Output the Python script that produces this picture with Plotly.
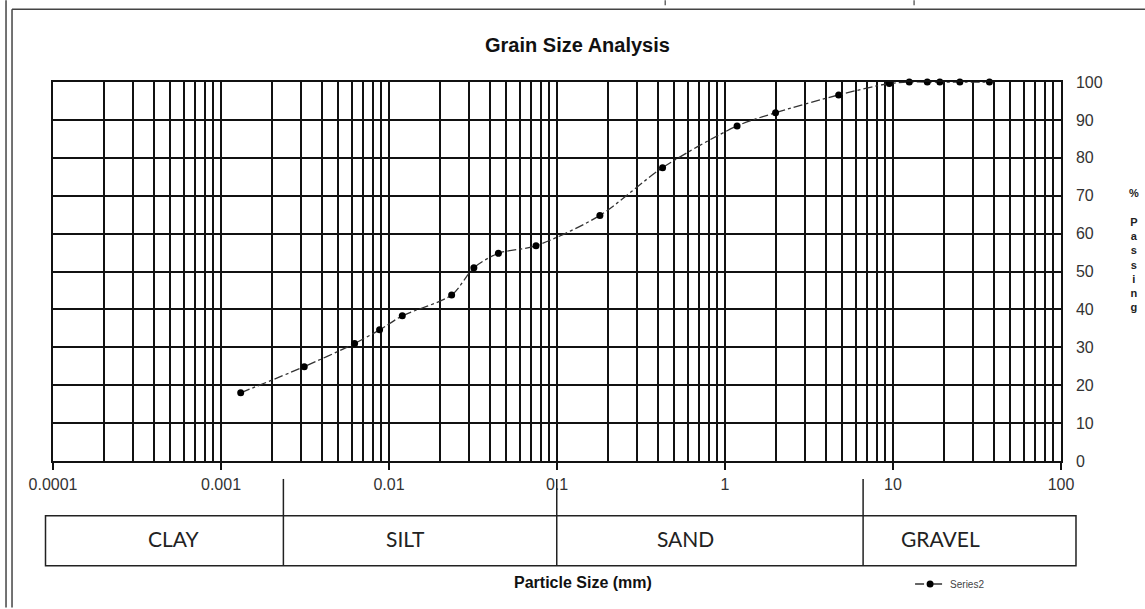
import plotly.graph_objects as go

# ---- data ----
size_mm = [0.00131, 0.00313, 0.00624, 0.00879, 0.0120, 0.0236, 0.0320, 0.0448, 0.075,
           0.18, 0.425, 1.18, 2.0, 4.75, 9.5, 12.5, 16.0, 19.0, 25.0, 37.5]
passing = [18.0, 24.9, 31.0, 34.6, 38.3, 43.8, 51.0, 54.8, 56.8,
           64.8, 77.4, 88.4, 91.9, 96.6, 99.6, 100, 100, 100, 100, 100]
series_name = "Series2"

x_major = [0.0001, 0.001, 0.01, 0.1, 1, 10, 100]
x_labels = ["0.0001", "0.001", "0.01", "0.1", "1", "10", "100"]
x_minor = [k * d for d in [0.0001, 0.001, 0.01, 0.1, 1, 10] for k in range(2, 10)]
y_ticks = list(range(0, 101, 10))

classes = ["CLAY", "SILT", "SAND", "GRAVEL"]

# ---- layout geometry (pixels) ----
W, H = 1145, 609
L, R, T, B = 52.5, 1061, 82, 462
PW, PH = R - L, B - T


def px(xp):
    return (xp - L) / PW


def py(yp):
    return (B - yp) / PH


fig = go.Figure()
fig.add_trace(go.Scatter(
    x=size_mm, y=passing, name=series_name, mode="lines+markers",
    line=dict(color="#333333", width=1.3, dash="dashdot", shape="spline", smoothing=0.8),
    marker=dict(color="#000000", size=7),
    cliponaxis=False,
))

grid_col = "#111111"
tick_font = dict(family="Liberation Sans, Arial", size=16, color="#333333")
fig.update_xaxes(
    type="log", range=[-4, 2],
    tickmode="array", tickvals=x_major, ticktext=x_labels,
    ticks="outside", ticklen=7, tickwidth=1.5, tickcolor=grid_col,
    ticklabelstandoff=1,
    showgrid=True, gridcolor=grid_col, gridwidth=1.5,
    minor=dict(tickmode="array", tickvals=x_minor, showgrid=True,
               gridcolor=grid_col, gridwidth=1.5, ticks=""),
    showline=True, linecolor=grid_col, linewidth=1.5, mirror=True,
    zeroline=False,
    tickfont=tick_font,
)
fig.update_yaxes(
    range=[0, 100], tickmode="array", tickvals=y_ticks,
    side="right", ticks="", ticklabelstandoff=10,
    showgrid=True, gridcolor=grid_col, gridwidth=1.5,
    showline=True, linecolor=grid_col, linewidth=1.5, mirror=True,
    zeroline=False,
    tickfont=tick_font,
)

shapes = []
line_col = "#222222"
# classification box
box_top, box_bot = 517, 567
shapes.append(dict(type="rect", xref="paper", yref="paper",
                   x0=px(45), x1=px(1076), y0=py(box_bot), y1=py(box_top),
                   line=dict(color=line_col, width=1.5)))
dividers = [283, 556.5, 863]
for d in dividers:
    shapes.append(dict(type="line", xref="paper", yref="paper",
                       x0=px(d), x1=px(d), y0=py(box_bot), y1=py(480),
                       line=dict(color=line_col, width=1.5)))
# outer frame
frame_col = "#444444"
shapes.append(dict(type="line", xref="paper", yref="paper",
                   x0=px(5.5), x1=px(5.5), y0=py(0), y1=py(H),
                   line=dict(color=frame_col, width=1.5)))
shapes.append(dict(type="line", xref="paper", yref="paper",
                   x0=px(11.5), x1=px(11.5), y0=py(9), y1=py(H),
                   line=dict(color=frame_col, width=1.5)))
shapes.append(dict(type="line", xref="paper", yref="paper",
                   x0=px(11.5), x1=px(W), y0=py(9), y1=py(9),
                   line=dict(color=frame_col, width=1.5)))
for tx in [665, 914]:
    shapes.append(dict(type="line", xref="paper", yref="paper",
                       x0=px(tx), x1=px(tx), y0=py(0), y1=py(5),
                       line=dict(color=frame_col, width=1.2)))

annotations = []
class_centers = [174, 405, 685, 940]
for name, cx in zip(classes, class_centers):
    annotations.append(dict(text=name, x=px(cx), y=py(540),
                            xref="paper", yref="paper", showarrow=False,
                            xanchor="center", yanchor="middle",
                            font=dict(family="Lato", size=21, color="#222222")))
annotations.append(dict(text="<b>Grain Size Analysis</b>", x=px(577), y=py(45),
                        xref="paper", yref="paper", showarrow=False,
                        xanchor="center", yanchor="middle",
                        font=dict(family="Liberation Sans, Arial", size=20, color="#111111")))
annotations.append(dict(text="<b>Particle Size (mm)</b>", x=px(583), y=py(584),
                        xref="paper", yref="paper", showarrow=False,
                        xanchor="center", yanchor="middle",
                        font=dict(family="Liberation Sans, Arial", size=16, color="#111111")))
annotations.append(dict(text="<b>%<br> <br>P<br>a<br>s<br>s<br>i<br>n<br>g</b>",
                        x=px(1134), y=py(250), xref="paper", yref="paper",
                        showarrow=False, xanchor="center", yanchor="middle",
                        align="center",
                        font=dict(family="Liberation Sans, Arial", size=11, color="#222222")))

fig.update_layout(
    width=W, height=H,
    margin=dict(l=L, r=W - R, t=T, b=H - B),
    paper_bgcolor="white", plot_bgcolor="white",
    shapes=shapes, annotations=annotations,
    showlegend=True,
    legend=dict(x=px(910), y=py(584), xanchor="left", yanchor="middle",
                orientation="h", font=dict(family="Liberation Sans, Arial", size=10, color="#444444"),
                itemwidth=30, bgcolor="rgba(0,0,0,0)"),
)

fig.write_html(
    "out.html",
    config={"displayModeBar": False},
    post_script="document.body.style.margin='0';document.body.style.padding='0';"
                "document.body.style.overflow='hidden';"
                "document.documentElement.style.overflow='hidden';",
)
